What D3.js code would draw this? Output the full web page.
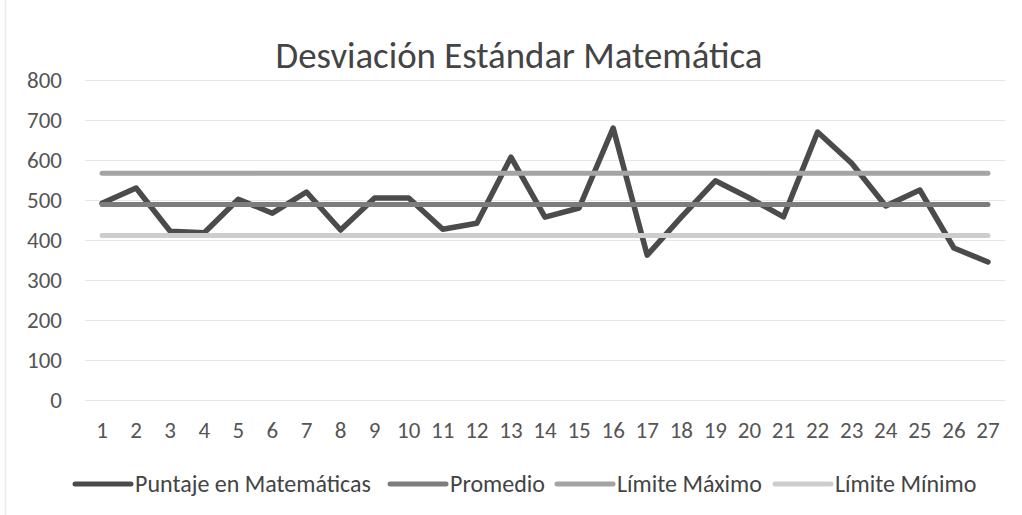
<!DOCTYPE html>
<html>
<head>
<meta charset="utf-8">
<script src="https://cdn.jsdelivr.net/npm/d3@7"></script>
<style>
  html, body { margin: 0; padding: 0; background: #fff; }
  svg { display: block; }
  text { font-family: Carlito, Lato, "Liberation Sans", sans-serif; }
</style>
</head>
<body>
<svg id="chart" width="1022" height="515"></svg>
<script>
const categories = ["1","2","3","4","5","6","7","8","9","10","11","12","13","14","15","16","17","18","19","20","21","22","23","24","25","26","27"];
const puntaje = [492, 530, 422, 418, 502, 467, 520, 425, 505, 505, 427, 442, 607, 457, 480, 680, 362, 457, 548, 505, 458, 670, 592, 485, 525, 380, 345];
const promedio = [489, 489, 489, 489, 489, 489, 489, 489, 489, 489, 489, 489, 489, 489, 489, 489, 489, 489, 489, 489, 489, 489, 489, 489, 489, 489, 489];
const limiteMaximo = [567, 567, 567, 567, 567, 567, 567, 567, 567, 567, 567, 567, 567, 567, 567, 567, 567, 567, 567, 567, 567, 567, 567, 567, 567, 567, 567];
const limiteMinimo = [411, 411, 411, 411, 411, 411, 411, 411, 411, 411, 411, 411, 411, 411, 411, 411, 411, 411, 411, 411, 411, 411, 411, 411, 411, 411, 411];
const yTicks = [0, 100, 200, 300, 400, 500, 600, 700, 800];
const seriesNames = ["Puntaje en Matemáticas", "Promedio", "Límite Máximo", "Límite Mínimo"];
const title = "Desviación Estándar Matemática";

const colors = ["#4b4b4b", "#7d7d7d", "#a4a4a4", "#cdcdcd"];
const series = [puntaje, promedio, limiteMaximo, limiteMinimo];

const svg = d3.select("#chart");
const W = 1022, H = 515;
const plot = { left: 85, right: 1005, top: 80, bottom: 400 };

svg.append("rect").attr("width", W).attr("height", H).attr("fill", "#fff");
// faint chart border on the left
svg.append("line").attr("x1", 5.5).attr("x2", 5.5).attr("y1", 0).attr("y2", H)
  .attr("stroke", "#ececec").attr("stroke-width", 1.5);

const x = d3.scaleBand().domain(categories).range([plot.left, plot.right]);
const y = d3.scaleLinear().domain([0, 800]).range([plot.bottom, plot.top]);

// gridlines + y axis labels
const gAxisY = svg.append("g").attr("transform", `translate(${plot.left},0)`)
  .call(d3.axisLeft(y).tickValues(yTicks).tickSize(-(plot.right - plot.left)).tickPadding(23));
gAxisY.select(".domain").remove();
gAxisY.selectAll(".tick line").attr("stroke", "#e6e6e6").attr("stroke-width", 1.2);
gAxisY.selectAll(".tick text").attr("fill", "#555").style("font-size", "23px");

const gAxisX = svg.append("g").attr("transform", `translate(0,${plot.bottom})`)
  .call(d3.axisBottom(x).tickSize(0).tickPadding(22));
gAxisX.select(".domain").remove();
gAxisX.selectAll(".tick text").attr("fill", "#555").style("font-size", "23px");

// lines
const line = d3.line()
  .x((d, i) => x(categories[i]) + x.bandwidth() / 2)
  .y(d => y(d));

series.forEach((s, k) => {
  svg.append("path").datum(s)
    .attr("d", line)
    .attr("fill", "none")
    .attr("stroke", colors[k])
    .attr("stroke-width", k === 0 ? 5.5 : 5)
    .attr("stroke-linejoin", "round")
    .attr("stroke-linecap", "round");
});

// title
const t = svg.append("text").attr("x", 519).attr("y", 68)
  .attr("text-anchor", "middle").attr("fill", "#444")
  .style("font-size", "36px").text(title);
const tw = t.node().getComputedTextLength();
t.style("font-size", (36 * 487 / tw).toFixed(2) + "px");

// legend
const legendX = [75, 390, 557, 775];
const legendY = 484;
seriesNames.forEach((name, k) => {
  svg.append("line")
    .attr("x1", legendX[k]).attr("x2", legendX[k] + 56)
    .attr("y1", legendY).attr("y2", legendY)
    .attr("stroke", colors[k]).attr("stroke-width", 5).attr("stroke-linecap", "round");
  svg.append("text")
    .attr("x", legendX[k] + 60).attr("y", legendY)
    .attr("dy", "0.35em").attr("fill", "#444")
    .style("font-size", "24px").text(name);
});
</script>
</body>
</html>
